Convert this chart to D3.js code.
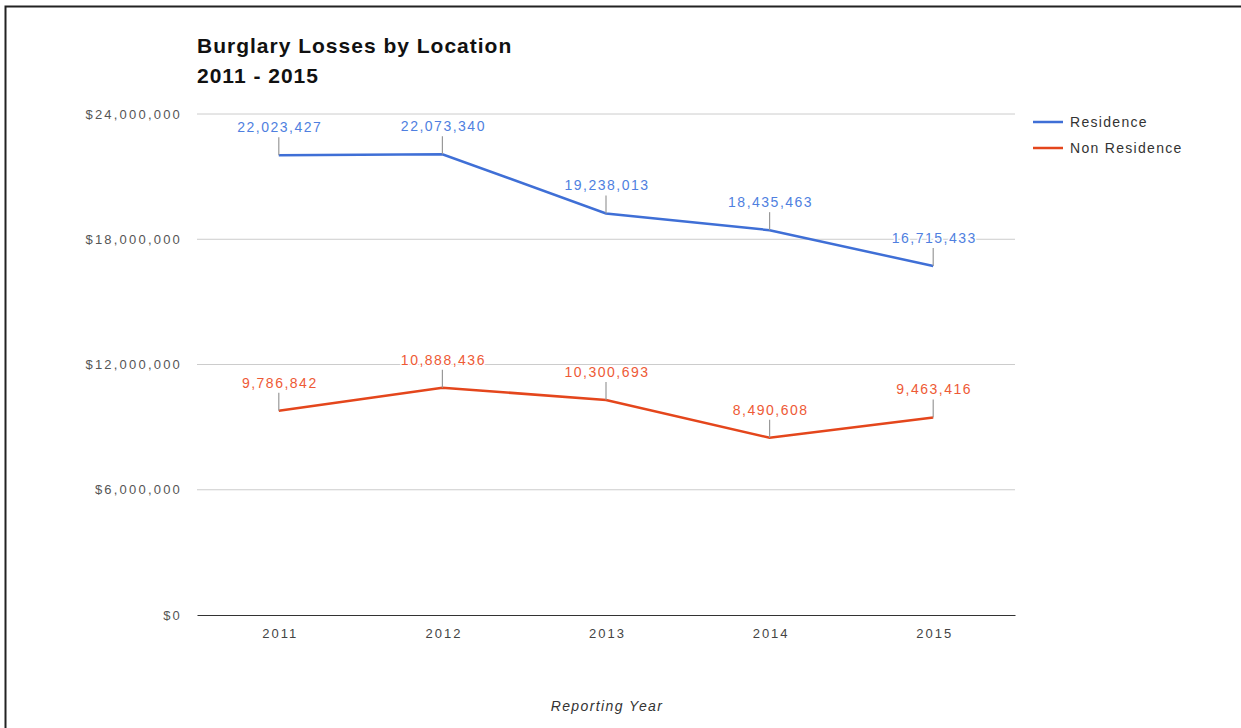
<!DOCTYPE html>
<html>
<head>
<meta charset="utf-8">
<script src="https://cdn.jsdelivr.net/npm/d3@7"></script>
<style>
  body { margin: 0; background: #fff; }
  text { font-family: "Liberation Sans", Arial, sans-serif; }
</style>
</head>
<body>
<div id="chart"></div>
<script>
var years = ["2011", "2012", "2013", "2014", "2015"];
var residence = [22023427, 22073340, 19238013, 18435463, 16715433];
var nonResidence = [9786842, 10888436, 10300693, 8490608, 9463416];
var yTicks = [0, 6000000, 12000000, 18000000, 24000000];
var seriesNames = ["Residence", "Non Residence"];

var svgWidth = 1241;
var svgHeight = 728;
var margin = { top: 114, right: 226, bottom: 113, left: 197 };
var width = svgWidth - margin.left - margin.right;
var height = svgHeight - margin.top - margin.bottom;

var colors = ["#3f6fd6", "#e4461c"];
var labelColors = ["#4f7fe0", "#ee5a36"];

var svg = d3.select("#chart")
  .append("svg")
  .attr("width", svgWidth)
  .attr("height", svgHeight);

// outer frame
svg.append("rect")
  .attr("x", 5.5)
  .attr("y", 6.5)
  .attr("width", svgWidth + 10)
  .attr("height", svgHeight + 10)
  .attr("fill", "none")
  .attr("stroke", "#222")
  .attr("stroke-width", 2);

var chartGroup = svg.append("g")
  .attr("transform", `translate(${margin.left}, ${margin.top})`);

var x = d3.scalePoint()
  .domain(years)
  .range([0, width])
  .padding(0.5);

var y = d3.scaleLinear()
  .domain([0, 24000000])
  .range([height, 0]);

// gridlines
chartGroup.append("g")
  .selectAll("line")
  .data(yTicks.filter(d => d > 0))
  .enter()
  .append("line")
  .attr("x1", 0)
  .attr("x2", width)
  .attr("y1", d => y(d))
  .attr("y2", d => y(d))
  .attr("stroke", "#cccccc")
  .attr("stroke-width", 1);

// y axis labels
var leftAxis = d3.axisLeft(y)
  .tickValues(yTicks)
  .tickSize(0)
  .tickPadding(15)
  .tickFormat(d => "$" + d3.format(",")(d));

var yAxisG = chartGroup.append("g").call(leftAxis);
yAxisG.select(".domain").remove();
yAxisG.selectAll("text")
  .attr("fill", "#555")
  .style("font-size", "13px")
  .style("letter-spacing", "2.2px");

// x axis
var bottomAxis = d3.axisBottom(x)
  .tickSize(0)
  .tickPadding(14);

var xAxisG = chartGroup.append("g")
  .attr("transform", `translate(0, ${height})`)
  .call(bottomAxis);
xAxisG.select(".domain")
  .attr("stroke", "#333")
  .attr("stroke-width", 1.2);
xAxisG.selectAll("text")
  .attr("fill", "#444")
  .attr("dx", 1)
  .style("font-size", "13px")
  .style("letter-spacing", "2px");

var line = d3.line()
  .x((d, i) => x(years[i]))
  .y(d => y(d));

[residence, nonResidence].forEach(function (series, s) {
  chartGroup.append("path")
    .datum(series)
    .attr("fill", "none")
    .attr("stroke", colors[s])
    .attr("stroke-width", 2.5)
    .attr("d", line);

  var ann = chartGroup.append("g")
    .selectAll("g")
    .data(series)
    .enter()
    .append("g")
    .attr("transform", (d, i) => `translate(${x(years[i])}, ${y(d)})`);

  ann.append("line")
    .attr("x1", 0)
    .attr("x2", 0)
    .attr("y1", 0)
    .attr("y2", -18)
    .attr("stroke", "#999")
    .attr("stroke-width", 1.2);

  ann.append("text")
    .attr("y", -23)
    .attr("dx", 1)
    .attr("text-anchor", "middle")
    .style("font-size", "14px")
    .style("letter-spacing", "1.5px")
    .attr("fill", labelColors[s])
    .attr("stroke", "#fff")
    .attr("stroke-width", 3)
    .attr("paint-order", "stroke")
    .text(d => d3.format(",")(d));
});

// title
var title = svg.append("text")
  .attr("x", 197)
  .attr("y", 53)
  .style("font-size", "21px")
  .style("font-weight", "bold")
  .style("letter-spacing", "1px")
  .attr("fill", "#111");
title.append("tspan").attr("x", 197).text("Burglary Losses by Location");
title.append("tspan").attr("x", 197).attr("dy", 30).text("2011 - 2015");

// legend
var legend = svg.append("g")
  .attr("transform", "translate(1033, 122)");
seriesNames.forEach(function (name, i) {
  legend.append("line")
    .attr("x1", 0)
    .attr("x2", 30)
    .attr("y1", i * 26)
    .attr("y2", i * 26)
    .attr("stroke", colors[i])
    .attr("stroke-width", 2.5);
  legend.append("text")
    .attr("x", 37)
    .attr("y", i * 26 + 5)
    .style("font-size", "14px")
    .style("letter-spacing", "1.3px")
    .attr("fill", "#333")
    .text(name);
});

// x axis title
svg.append("text")
  .attr("x", margin.left + width / 2 + 1)
  .attr("y", 711)
  .attr("text-anchor", "middle")
  .style("font-size", "14px")
  .style("font-style", "italic")
  .style("letter-spacing", "1.4px")
  .attr("fill", "#333")
  .text("Reporting Year");
</script>
</body>
</html>
